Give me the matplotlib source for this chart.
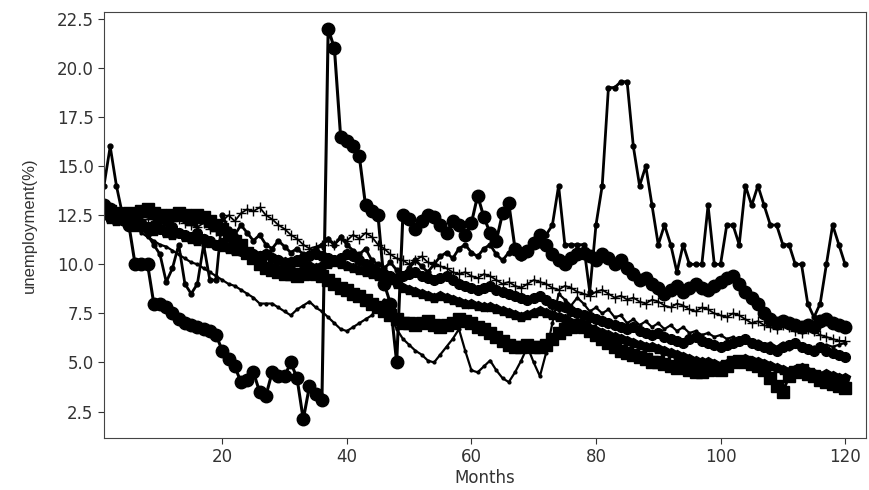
import matplotlib
matplotlib.use("Agg")
import matplotlib.pyplot as plt

months = list(range(1, 121))

# spike series (big circles)
rate_a = [
    13.0, 12.8, 12.5, 12.3, 12.0, 10.0, 10.0, 10.0, 8.0, 8.0,
    7.8, 7.5, 7.2, 7.0, 6.9, 6.8, 6.7, 6.6, 6.4, 5.6,
    5.2, 4.8, 4.0, 4.1, 4.5, 3.5, 3.3, 4.5, 4.3, 4.3,
    5.0, 4.2, 2.1, 3.8, 3.4, 3.1, 22.0, 21.0, 16.5, 16.3,
    16.0, 15.5, 13.0, 12.7, 12.5, 9.0, 8.0, 5.0, 12.5, 12.3,
    11.8, 12.2, 12.5, 12.4, 12.0, 11.6, 12.2, 12.0, 11.5, 12.1,
    13.5, 12.4, 11.6, 11.2, 12.6, 13.1, 10.8, 10.5, 10.7, 11.1,
    11.5, 11.0, 10.5, 10.2, 10.0, 10.3, 10.5, 10.6, 10.4, 10.2,
    10.5, 10.3, 10.0, 10.2, 9.8, 9.5, 9.2, 9.3, 9.0, 8.8,
    8.5, 8.7, 8.9, 8.6, 8.8, 9.0, 8.8, 8.7, 8.9, 9.1,
    9.3, 9.4, 9.0, 8.6, 8.3, 8.0, 7.5, 7.2, 7.0, 7.1,
    7.0, 6.9, 6.8, 6.9, 6.8, 7.1, 7.2, 7.0, 6.9, 6.8,
]

# spiky series (small dots)
rate_b = [
    14.0, 16.0, 14.0, 12.5, 12.0, 12.2, 11.8, 11.5, 11.0, 10.5,
    9.1, 9.8, 11.0, 9.0, 8.5, 9.0, 11.0, 9.2, 9.2, 12.5,
    11.8, 11.5, 12.0, 11.6, 11.2, 11.5, 11.0, 10.8, 11.2, 10.9,
    10.6, 10.8, 10.5, 10.6, 10.8, 11.0, 11.3, 11.0, 11.4, 11.0,
    10.7, 10.5, 10.8, 10.2, 10.0, 9.8, 10.1, 9.7, 9.5, 9.8,
    10.2, 9.9, 9.6, 10.0, 10.4, 10.6, 10.3, 10.8, 11.0, 10.6,
    10.4, 10.8, 11.0, 10.5, 10.2, 10.6, 10.9, 10.3, 10.5, 11.0,
    11.0, 11.5, 12.0, 14.0, 11.0, 11.0, 11.0, 11.0, 8.6, 12.0,
    14.0, 19.0, 19.0, 19.3, 19.3, 16.0, 14.0, 15.0, 13.0, 11.0,
    12.0, 11.0, 9.6, 11.0, 10.0, 10.0, 10.0, 13.0, 10.0, 10.0,
    12.0, 12.0, 11.0, 14.0, 13.0, 14.0, 13.0, 12.0, 12.0, 11.0,
    11.0, 10.0, 10.0, 8.0, 7.3, 8.0, 10.0, 12.0, 11.0, 10.0,
]

# thin line that dips low mid-way
rate_c = [
    12.5, 12.4, 12.6, 12.3, 12.1, 11.9, 11.6, 11.4, 11.2, 11.0,
    10.9, 10.7, 10.5, 10.3, 10.1, 10.0, 9.8, 9.6, 9.4, 9.2,
    9.0, 8.9, 8.7, 8.5, 8.3, 8.0, 8.0, 8.0, 7.8, 7.6,
    7.4, 7.7, 7.9, 8.1, 7.8, 7.6, 7.3, 7.0, 6.7, 6.6,
    6.8, 7.0, 7.2, 7.4, 7.8, 8.2, 7.4, 6.7, 6.2, 5.9,
    5.6, 5.4, 5.1, 5.0, 5.4, 5.8, 6.2, 6.7, 5.6, 4.6,
    4.5, 4.8, 5.1, 4.6, 4.2, 4.0, 4.5, 5.1, 5.8, 5.0,
    4.3, 5.5, 7.0, 8.5, 8.2, 7.9, 8.3, 8.0, 7.6, 7.8,
    7.5, 7.7, 7.3, 7.4, 7.0, 7.2, 6.9, 7.1, 6.8, 7.0,
    6.7, 6.9, 6.6, 6.8, 6.5, 6.6, 6.4, 6.5, 6.3, 6.4,
    6.2, 6.3, 6.1, 6.2, 6.0, 6.1, 5.9, 6.0, 5.8, 6.0,
    5.7, 5.9, 5.8, 5.6, 5.8, 5.7, 5.9, 5.8, 5.9, 6.0,
]

# squares, lowest at the end
rate_d = [
    12.8, 12.7, 12.6, 12.5, 12.6, 12.5, 12.7, 12.8, 12.6, 12.5,
    12.4, 12.5, 12.6, 12.5, 12.3, 12.5, 12.4, 12.2, 12.0, 11.8,
    11.5, 11.2, 11.0, 10.6, 10.3, 10.0, 9.8, 9.7, 9.6, 9.5,
    9.5, 9.4, 9.5, 9.6, 9.5, 9.4, 9.2, 9.0, 8.8, 8.7,
    8.5, 8.4, 8.2, 8.0, 7.8, 7.6, 7.4, 7.2, 7.0, 7.0,
    6.9, 7.0, 7.1, 6.9, 6.8, 6.9, 7.0, 7.2, 7.1, 7.0,
    6.8, 6.7, 6.5, 6.3, 6.1, 5.9, 5.8, 5.8, 5.9, 5.8,
    5.8, 5.9, 6.2, 6.5, 6.7, 6.8, 6.9, 6.8, 6.6, 6.4,
    6.2, 6.0, 5.8, 5.6, 5.5, 5.4, 5.3, 5.2, 5.0, 5.0,
    4.9, 4.8, 4.7, 4.8, 4.6, 4.5, 4.5, 4.6, 4.7, 4.6,
    4.8, 5.0, 5.1, 5.0, 4.9, 4.8, 4.6, 4.2, 3.8, 3.5,
    4.3, 4.5, 4.6, 4.4, 4.3, 4.1, 4.0, 3.9, 3.8, 3.7,
]

rate_e = [
    12.5, 12.3, 12.2, 12.3, 12.0, 11.9, 12.0, 11.8, 11.7, 11.8,
    11.6, 11.5, 11.6, 11.4, 11.3, 11.2, 11.3, 11.1, 11.0, 10.9,
    10.8, 10.7, 10.8, 10.6, 10.5, 10.4, 10.5, 10.3, 10.2, 10.1,
    10.0, 10.1, 10.0, 9.9, 9.8, 9.9, 10.0, 10.1, 10.0, 9.9,
    9.8, 9.7, 9.6, 9.5, 9.4, 9.3, 9.2, 9.0, 8.8, 8.7,
    8.6, 8.5, 8.4, 8.3, 8.4, 8.3, 8.2, 8.1, 8.0, 8.0,
    7.9, 7.8, 7.8, 7.7, 7.6, 7.5, 7.4, 7.3, 7.4, 7.5,
    7.6, 7.5, 7.4, 7.3, 7.2, 7.0, 6.9, 6.8, 6.7, 6.6,
    6.5, 6.4, 6.3, 6.2, 6.1, 6.0, 5.9, 5.8, 5.8, 5.7,
    5.6, 5.5, 5.4, 5.3, 5.2, 5.1, 5.0, 5.0, 4.9, 4.8,
    4.9, 5.0, 5.1, 5.2, 5.1, 5.0, 4.9, 4.8, 4.7, 4.6,
    4.5, 4.6, 4.7, 4.5, 4.4, 4.3, 4.4, 4.3, 4.2, 4.2,
]

rate_f = [
    12.5, 12.6, 12.4, 12.3, 12.5, 12.4, 12.2, 12.3, 12.4, 12.1,
    12.0, 12.2, 12.3, 12.1, 12.0, 11.9, 12.1, 11.8, 11.7, 12.2,
    12.5, 12.2, 12.6, 12.8, 12.7, 12.9, 12.5, 12.3, 12.0, 11.8,
    11.5, 11.3, 11.0, 10.8, 10.9, 11.0, 11.2, 11.0, 11.3, 11.2,
    11.5, 11.3, 11.6, 11.4, 11.0, 10.8, 10.5, 10.3, 10.2, 10.0,
    10.2, 10.4, 10.1, 10.0, 9.9, 9.8, 9.6, 9.5, 9.6, 9.4,
    9.3, 9.5, 9.4, 9.2, 9.0, 9.1, 8.9, 8.8, 9.0, 9.2,
    9.1, 9.0, 8.8, 8.7, 8.9, 8.8, 8.6, 8.5, 8.4, 8.6,
    8.7, 8.5, 8.3, 8.4, 8.2, 8.3, 8.1, 8.0, 8.2, 8.1,
    7.9, 7.8, 8.0, 7.9, 7.7, 7.6, 7.8, 7.7, 7.5, 7.4,
    7.3, 7.5, 7.4, 7.2, 7.0, 7.1, 6.9, 6.8, 6.7, 6.9,
    6.8, 6.6, 6.5, 6.7, 6.6, 6.4, 6.3, 6.2, 6.1, 6.1,
]

rate_g = [
    12.6, 12.4, 12.5, 12.3, 12.2, 12.0, 12.1, 11.9, 12.0, 11.8,
    11.7, 11.9, 11.6, 11.5, 11.4, 11.6, 11.3, 11.2, 11.0, 11.1,
    10.9, 10.8, 10.7, 10.6, 10.5, 10.4, 10.5, 10.3, 10.2, 10.0,
    10.1, 10.2, 10.3, 10.4, 10.5, 10.4, 10.3, 10.2, 10.3, 10.5,
    10.4, 10.2, 10.0, 9.8, 9.6, 9.5, 9.4, 9.3, 9.4, 9.5,
    9.6, 9.4, 9.3, 9.2, 9.3, 9.4, 9.2, 9.0, 8.9, 8.8,
    8.7, 8.8, 8.9, 8.7, 8.6, 8.5, 8.4, 8.3, 8.2, 8.3,
    8.4, 8.2, 8.0, 7.9, 7.8, 7.6, 7.5, 7.4, 7.3, 7.2,
    7.1, 7.0, 6.9, 6.8, 6.7, 6.8, 6.6, 6.5, 6.4, 6.5,
    6.3, 6.2, 6.1, 6.0, 6.2, 6.3, 6.1, 6.0, 5.9, 5.8,
    5.9, 6.0, 6.1, 6.2, 6.0, 5.9, 5.8, 5.7, 5.6, 5.8,
    5.9, 6.0, 5.8, 5.7, 5.6, 5.8, 5.6, 5.5, 5.4, 5.3,
]


def main() -> None:
    fig = plt.figure(figsize=(8.7, 4.9), dpi=100)
    ax = fig.add_axes([0.1195, 0.106, 0.8755, 0.8695])

    ax.plot(months, rate_d, color="k", lw=2.2, marker="s", ms=8)
    ax.plot(months, rate_e, color="k", lw=2.2, marker="p", ms=7)
    ax.plot(months, rate_g, color="k", lw=2.2, marker="o", ms=7)
    ax.plot(months, rate_f, color="k", lw=1.3, marker="+", ms=7)
    ax.plot(months, rate_c, color="k", lw=1.6, marker=".", ms=4)
    ax.plot(months, rate_b, color="k", lw=2, marker=".", ms=7)
    ax.plot(months, rate_a, color="k", lw=2.2, marker="o", ms=9)

    ax.set_xlim(1, 123.3)
    ax.set_ylim(1.15, 22.85)
    ax.set_xticks([20, 40, 60, 80, 100, 120])
    ax.set_yticks([2.5, 5.0, 7.5, 10.0, 12.5, 15.0, 17.5, 20.0, 22.5])
    ax.tick_params(labelsize=12, length=4, colors="#333333")
    for sp in ax.spines.values():
        sp.set_color("#444444")
    ax.set_xlabel("Months", fontsize=12, color="#333333", labelpad=2)
    ax.set_ylabel("unemployment(%)", fontsize=12, family="Liberation Sans",
                  color="#333333", labelpad=14)

    fig.savefig("out.png", dpi=100)


if __name__ == "__main__":
    main()
